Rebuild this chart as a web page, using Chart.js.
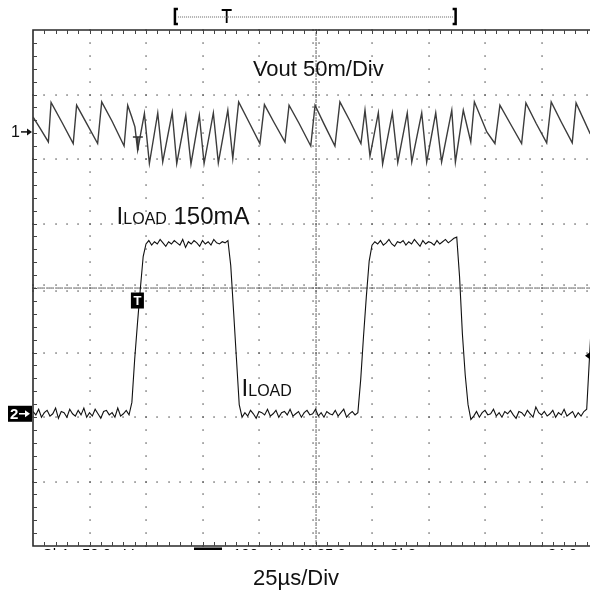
<!DOCTYPE html>
<html>
<head>
<meta charset="utf-8">
<script src="https://cdn.jsdelivr.net/npm/chart.js@4/dist/chart.umd.min.js"></script>
<style>
  html, body { margin: 0; padding: 0; background: #fff; overflow: hidden; width: 590px; height: 593px; }
  #wrap { position: absolute; left: 0; top: 0; width: 600px; height: 593px; }
</style>
</head>
<body>
<div id="wrap"><canvas id="scope" width="600" height="593"></canvas></div>
<script>
// ---- Screen geometry (divisions) and channel settings ----
const X_DIVS = 10, Y_DIVS = 8, MINOR = 5;
const US_PER_DIV = 25;        // time base
const MV_PER_DIV = 50;        // channel 1 (Vout)
const MA_PER_DIV = 56.6;      // channel 2 (ILOAD)
const CH1_REF_DIV = 6.42;     // channel 1 marker, divisions above bottom
const CH2_REF_DIV = 2.05;     // channel 2 marker, divisions above bottom

// ---- Channel 1: Vout ripple, vertex times (µs) and values (mV) ----
const voutTimeUs = [0, 3.1, 6.8, 8.0, 12.8, 17.8, 19.3, 23.9, 28.6, 30.4,
  35.0, 40.3, 41.9, 43.7, 45.1, 46.3, 49.3, 51.5, 55.2, 57.4,
  61.6, 63.6, 67.6, 69.9, 73.6, 75.7, 79.8, 82.0, 86.2, 88.4,
  91.0, 95.6, 100.4, 102.4, 106.6, 111.5, 113.3, 117.7, 122.9, 124.8,
  128.8, 133.6, 135.8, 140.3, 145.1, 146.9, 149.1, 152.8, 154.7, 159.0,
  161.4, 165.6, 167.6, 172.0, 174.2, 178.2, 180.8, 185.3, 186.9, 190.4,
  193.7, 195.3, 200.8, 204.4, 206.6, 211.1, 216.2, 218.1, 222.6, 227.3,
  229.3, 233.8, 238.6, 240.3, 246.5, 250];
const voutMv = [11.6, 2.9, -7.8, 22.8, 7.5, -9.0, 20.7, 6.0, -9.0, 23.3,
  8.3, -10.9, 20.7, 11.6, 3.9, -14.2, 14.3, -24.5, 14.7, -23.3,
  15.0, -24.5, 12.9, -25.0, 12.9, -24.5, 14.7, -24.0, 16.8, -20.6,
  23.3, 7.5, -9.0, 21.2, 7.5, -7.8, 20.7, 6.7, -10.9, 20.7,
  6.0, -10.9, 23.3, 8.3, -9.0, 16.8, -18.8, 14.7, -25.0, 14.7,
  -23.7, 14.7, -23.3, 14.7, -23.3, 14.7, -23.3, 16.8, -23.5, 16.8,
  -7.8, 23.3, 0, -9.0, 20.7, 6.7, -9.0, 22.5, 6.7, -8.5,
  23.3, 7.5, -8.5, 22.5, -1.2, -6.4];

// ---- Channel 2: load current, sampled every ILOAD_STEP_US (mA) ----
const ILOAD_STEP_US = 1.25;
const iloadMa = [
  2, -1, 4, -3, 1, 3, -2, 0, 5, -4, 2, 1, -3, 4, 0, -2, 3, -1, 5, -3,
  1, -2, 4, 0, -4, 2, 3, -1, 1, -3, 5, -2, 0, 3, -1,
  10, 48, 80, 110, 138, 149,
  152, 148, 151, 149, 153, 150, 147, 151, 149, 152, 150, 148, 153, 146, 151,
  149, 152, 150, 147, 152, 149, 151, 148, 153, 150, 149, 151, 150, 152,
  130, 90, 49, 8,
  -3, 1, -2, 3, 0, -4, 2, 1, -1, 4, -2, 0, 3, -3, 1, 2, -1, 4, -2, 0,
  2, -3, 1, 3, -1, 0, 4, -2, 1, -3, 2, 0, -1, 3, -2, 1, 4, -3, 0, 2, -1,
  1, 30, 68, 103, 134, 148,
  151, 149, 152, 148, 150, 153, 149, 147, 151, 150, 152, 148, 151, 149, 153,
  150, 147, 152, 149, 151, 150, 148, 152, 149, 151, 153, 150, 152, 154,
  155, 120, 70, 34, 8, -5,
  -2, 2, -3, 1, 3, -1, 0, 4, -2, 1, -3, 2, 0, 3, -1, -4, 2, 1, -2, 3,
  0, -3, 6, 1, -1, 2, -2, 0, 3, -3, 1, -1, 4, -2, 0, 2, -3, 1, -2, 2,
  4, 50, 95, 130, 148];

const FONT = '"Liberation Sans", Arial, Helvetica, sans-serif';
const GRID_COLOR = '#4a4a4a';
const INK = '#111';

// Graticule: dotted division lines, dense centre axes, ticked border
const graticule = {
  id: 'graticule',
  beforeDatasetsDraw(chart) {
    const { ctx, scales: { x, yDiv } } = chart;
    const X = d => x.getPixelForValue(d * US_PER_DIV);
    const Y = d => yDiv.getPixelForValue(d);
    const dot = (px, py) => ctx.fillRect(Math.round(px) - 0.6, Math.round(py) - 0.6, 1.3, 1.3);
    ctx.save();
    ctx.fillStyle = GRID_COLOR;
    for (let k = 1; k < X_DIVS; k++) {
      if (k === X_DIVS / 2) continue;
      for (let m = 0; m <= Y_DIVS * MINOR; m++) dot(X(k), Y(m / MINOR));
    }
    for (let j = 1; j < Y_DIVS; j++) {
      if (j === Y_DIVS / 2) continue;
      for (let m = 0; m <= X_DIVS * MINOR; m++) dot(X(m / MINOR), Y(j));
    }
    const cx = X(X_DIVS / 2), cy = Y(Y_DIVS / 2);
    const fine = MINOR * 5;
    for (let m = 0; m <= Y_DIVS * fine; m++) dot(cx, Y(m / fine));
    for (let m = 0; m <= X_DIVS * fine; m++) dot(X(m / fine), cy);
    for (let m = 0; m <= Y_DIVS * MINOR; m++) { dot(cx - 3, Y(m / MINOR)); dot(cx + 3, Y(m / MINOR)); }
    for (let m = 0; m <= X_DIVS * MINOR; m++) { dot(X(m / MINOR), cy - 3); dot(X(m / MINOR), cy + 3); }

    // border
    const left = X(0), right = X(X_DIVS), top = Y(Y_DIVS), bottom = Y(0);
    ctx.strokeStyle = '#2a2a2a';
    ctx.lineWidth = 1.6;
    ctx.beginPath();
    ctx.moveTo(right, top); ctx.lineTo(left, top); ctx.lineTo(left, bottom); ctx.lineTo(right, bottom);
    ctx.stroke();
    ctx.lineWidth = 1;
    ctx.strokeStyle = '#444';
    ctx.beginPath();
    for (let m = 1; m < X_DIVS * MINOR; m++) {
      const px = Math.round(X(m / MINOR)) + 0.5;
      ctx.moveTo(px, top); ctx.lineTo(px, top + 4);
      ctx.moveTo(px, bottom); ctx.lineTo(px, bottom - 4);
    }
    for (let m = 1; m < Y_DIVS * MINOR; m++) {
      const py = Math.round(Y(m / MINOR)) + 0.5;
      ctx.moveTo(left, py); ctx.lineTo(left + 4, py);
    }
    ctx.stroke();
    ctx.restore();
  }
};

// Text labels and scope markers
const annotations = {
  id: 'annotations',
  afterDatasetsDraw(chart) {
    const { ctx, scales: { x, yDiv, yV, yI } } = chart;
    const X = t => x.getPixelForValue(t);
    const Y = d => yDiv.getPixelForValue(d);
    ctx.save();
    ctx.fillStyle = INK;
    ctx.textBaseline = 'alphabetic';

    // Vout label
    ctx.font = '22px ' + FONT;
    ctx.fillText('Vout 50m/Div', X(97.3), Y(7.28));

    // ILOAD labels (I + small caps LOAD)
    const iload = (t, d, suffix) => {
      let px = X(t);
      const py = Y(d);
      ctx.font = '24px ' + FONT;
      ctx.fillText('I', px, py);
      px += ctx.measureText('I').width;
      ctx.font = '16px ' + FONT;
      ctx.fillText('LOAD', px, py);
      px += ctx.measureText('LOAD').width;
      if (suffix) {
        ctx.font = '24px ' + FONT;
        ctx.fillText(suffix, px, py);
      }
    };
    iload(37, 5.0, ' 150mA');
    iload(92.3, 2.33, '');

    // time base caption
    ctx.font = '22px ' + FONT;
    ctx.textAlign = 'center';
    ctx.fillText('25µs/Div', X(116.4), Y(-0.61));
    ctx.textAlign = 'left';

    // channel reference markers
    const y1 = yV.getPixelForValue(0);
    ctx.font = '16px ' + FONT;
    ctx.textBaseline = 'middle';
    ctx.fillText('1', 11, y1 + 1);
    const arrow = (x0, yy, color) => {
      ctx.strokeStyle = color; ctx.fillStyle = color; ctx.lineWidth = 1.5;
      ctx.beginPath(); ctx.moveTo(x0, yy); ctx.lineTo(x0 + 8, yy); ctx.stroke();
      ctx.beginPath(); ctx.moveTo(x0 + 11, yy); ctx.lineTo(x0 + 6, yy - 3.5); ctx.lineTo(x0 + 6, yy + 3.5); ctx.closePath(); ctx.fill();
    };
    arrow(21, y1, INK);
    const y2 = yI.getPixelForValue(0);
    ctx.fillStyle = '#000';
    ctx.fillRect(8, y2 - 8, 24, 16);
    ctx.fillStyle = '#fff';
    ctx.font = 'bold 15px ' + FONT;
    ctx.fillText('2', 10, y2 + 1);
    arrow(19, y2, '#fff');

    // trigger marker on the Vout trace
    ctx.strokeStyle = '#333'; ctx.lineWidth = 1.6;
    ctx.beginPath();
    ctx.moveTo(X(44.2), yV.getPixelForValue(-3.9)); ctx.lineTo(X(48.6), yV.getPixelForValue(-3.9));
    ctx.moveTo(X(46.4), yV.getPixelForValue(-3.9)); ctx.lineTo(X(46.4), yV.getPixelForValue(-14.2));
    ctx.stroke();

    // trigger box on the load trace
    const tx = X(46.2), ty = Y(3.806);
    ctx.fillStyle = '#000';
    ctx.fillRect(tx - 6.5, ty - 8, 13, 16);
    ctx.fillStyle = '#fff';
    ctx.font = 'bold 13px ' + FONT;
    ctx.textAlign = 'center';
    ctx.fillText('T', tx, ty + 1);
    ctx.textAlign = 'left';

    // trigger level marker at right edge
    const ly = Y(2.95);
    ctx.fillStyle = '#000';
    ctx.beginPath(); ctx.moveTo(585, ly); ctx.lineTo(592, ly - 5); ctx.lineTo(592, ly + 5); ctx.closePath(); ctx.fill();

    // record window bracket above the screen
    const bl = X(62.8), br = X(187.0), bt = X(85.7), by = 16.5;
    ctx.strokeStyle = '#000'; ctx.lineWidth = 2.5;
    ctx.beginPath();
    ctx.moveTo(bl + 3, 9); ctx.lineTo(bl, 9); ctx.lineTo(bl, 24); ctx.lineTo(bl + 3, 24);
    ctx.moveTo(br - 3, 9); ctx.lineTo(br, 9); ctx.lineTo(br, 24); ctx.lineTo(br - 3, 24);
    ctx.stroke();
    ctx.lineWidth = 1.8;
    ctx.beginPath();
    ctx.moveTo(bt - 5, 10); ctx.lineTo(bt + 5, 10);
    ctx.moveTo(bt, 10); ctx.lineTo(bt, 23);
    ctx.stroke();
    ctx.fillStyle = '#666';
    for (let px = bl + 3; px < br - 2; px += 2) ctx.fillRect(px, by, 1, 1);

    // status line, cut off by the lower screen edge (only glyph tops show)
    ctx.save();
    ctx.beginPath(); ctx.rect(0, 547.5, 600, 2.5); ctx.clip();
    ctx.font = '15px ' + FONT;
    ctx.textBaseline = 'alphabetic';
    ctx.fillStyle = '#000';
    ctx.fillText('Ch1   50.0mV', 42, 559);
    ctx.fillRect(194, 546, 28, 10);
    ctx.fillText('100mV', 233, 559);
    ctx.fillText('M 25.0µs  A  Ch2', 300, 559);
    ctx.fillText('84.0mA', 548, 559);
    ctx.restore();

    ctx.restore();
  }
};

new Chart(document.getElementById('scope'), {
  type: 'line',
  data: {
    datasets: [
      {
        label: 'Vout',
        yAxisID: 'yV',
        data: voutTimeUs.map((t, i) => ({ x: t, y: voutMv[i] })),
        borderColor: '#3c3c3c',
        borderWidth: 1.4
      },
      {
        label: 'ILOAD',
        yAxisID: 'yI',
        data: iloadMa.map((v, i) => ({ x: i * ILOAD_STEP_US, y: v })),
        borderColor: '#111',
        borderWidth: 1.1
      }
    ]
  },
  options: {
    responsive: false,
    animation: false,
    devicePixelRatio: 1,
    layout: { padding: { left: 33, right: 2, top: 30, bottom: 47 } },
    elements: { point: { radius: 0 }, line: { tension: 0 } },
    plugins: { legend: { display: false }, tooltip: { enabled: false } },
    scales: {
      x: { type: 'linear', min: 0, max: X_DIVS * US_PER_DIV, display: false },
      yDiv: { type: 'linear', min: 0, max: Y_DIVS, display: false },
      yV: { type: 'linear', min: -CH1_REF_DIV * MV_PER_DIV, max: (Y_DIVS - CH1_REF_DIV) * MV_PER_DIV, display: false },
      yI: { type: 'linear', min: -CH2_REF_DIV * MA_PER_DIV, max: (Y_DIVS - CH2_REF_DIV) * MA_PER_DIV, display: false }
    }
  },
  plugins: [graticule, annotations]
});
</script>
</body>
</html>
